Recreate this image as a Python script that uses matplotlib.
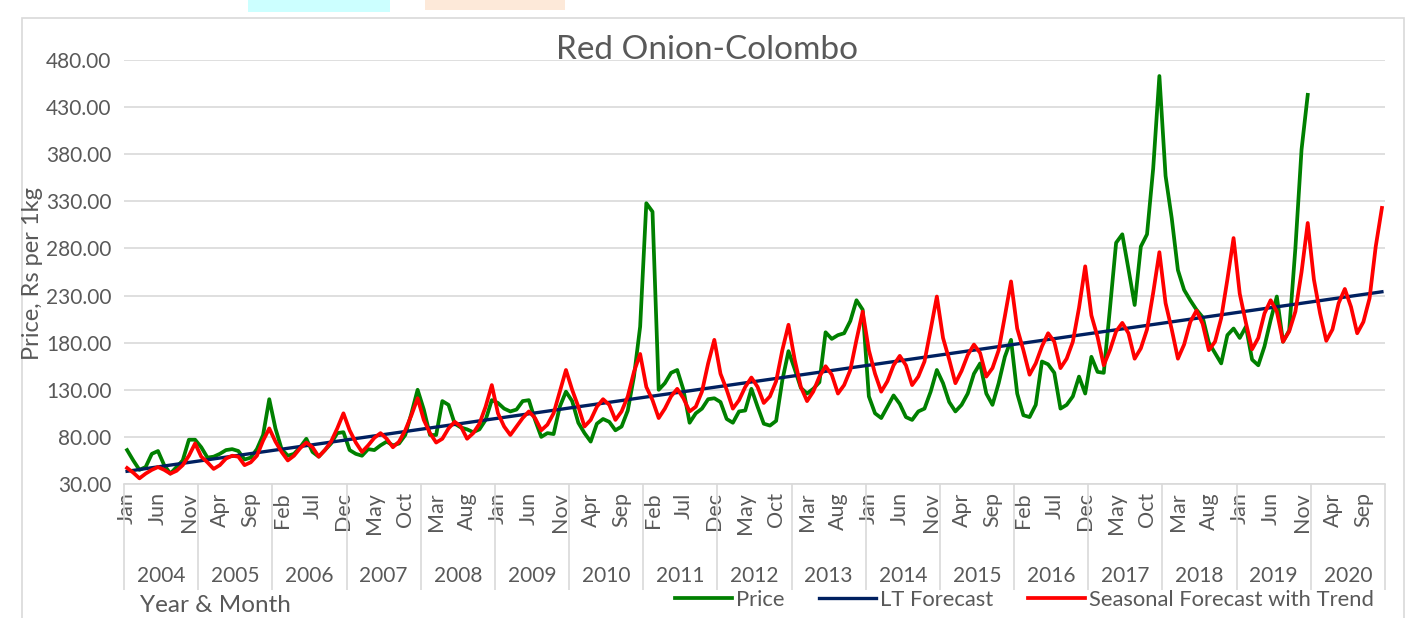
import matplotlib
matplotlib.use('Agg')
import matplotlib.pyplot as plt
import matplotlib.transforms as mtransforms
from matplotlib.patches import Rectangle
from matplotlib.ticker import FormatStrFormatter

plt.rcParams['font.family'] = ['Lato', 'DejaVu Sans']

years = list(range(2004, 2021))
month_names = ['Jan', 'Feb', 'Mar', 'Apr', 'May', 'Jun',
               'Jul', 'Aug', 'Sep', 'Oct', 'Nov', 'Dec']
months = [m for y in years for m in month_names]

# monthly price, Jan 2004 - Dec 2019
price = [
    66, 55, 45, 48, 62, 65, 50, 41, 48, 55, 77, 77,
    69, 58, 59, 62, 66, 67, 65, 56, 58, 67, 82, 120,
    89, 67, 60, 62, 69, 78, 64, 59, 66, 73, 84, 85,
    66, 62, 60, 67, 66, 71, 75, 71, 73, 82, 105, 130,
    109, 82, 82, 118, 114, 94, 90, 88, 85, 88, 98, 119,
    116, 110, 107, 109, 118, 119, 98, 80, 84, 83, 112, 128,
    118, 95, 84, 75, 94, 99, 96, 87, 91, 108, 144, 197,
    328, 319, 130, 137, 148, 151, 130, 95, 105, 110, 120, 121,
    117, 99, 95, 107, 108, 131, 112, 94, 92, 97, 140, 171,
    152, 132, 126, 131, 138, 191, 184, 188, 190, 203, 225, 215,
    123, 105, 100, 112, 124, 115, 101, 98, 107, 110, 128, 151,
    137, 117, 107, 114, 126, 147, 158, 126, 114, 137, 165, 183,
    126, 103, 101, 114, 160, 157, 148, 110, 114, 123, 144, 126,
    165, 149, 148, 216, 286, 295, 258, 220, 282, 295, 365, 463,
    357, 312, 257, 236, 225, 215, 207, 180, 169, 158, 188, 195,
    185, 197, 162, 156, 176, 204, 229, 181, 193, 280, 385, 443,
]

# seasonal forecast with trend, Jan 2004 - Dec 2020
seasonal = [
    47, 42, 36, 41, 45, 48, 45, 41, 44, 50, 60, 73,
    59, 53, 46, 50, 57, 60, 59, 50, 53, 60, 76, 89,
    75, 64, 55, 60, 68, 74, 69, 59, 66, 75, 89, 105,
    87, 74, 64, 71, 79, 84, 78, 69, 75, 87, 103, 121,
    98, 84, 74, 78, 89, 96, 91, 78, 84, 94, 112, 135,
    105, 91, 82, 91, 100, 107, 100, 87, 93, 105, 128, 151,
    130, 112, 91, 98, 112, 120, 114, 98, 107, 123, 149, 168,
    133, 119, 100, 110, 123, 131, 121, 107, 112, 128, 158, 183,
    147, 130, 110, 119, 133, 143, 133, 116, 123, 139, 172, 199,
    162, 133, 118, 128, 144, 155, 146, 126, 135, 151, 183, 213,
    172, 147, 128, 139, 156, 166, 156, 135, 144, 160, 194, 229,
    185, 162, 137, 150, 167, 178, 169, 144, 153, 172, 208, 245,
    195, 172, 146, 158, 176, 190, 181, 153, 163, 181, 217, 261,
    209, 186, 156, 172, 192, 201, 190, 163, 174, 194, 233, 276,
    222, 194, 163, 178, 202, 214, 200, 172, 181, 206, 247, 291,
    232, 201, 173, 185, 211, 225, 213, 181, 192, 213, 255, 307,
    247, 211, 182, 194, 222, 237, 218, 190, 202, 227, 282, 323,
]

# long term (linear) forecast: value at first and last month
lt_forecast = [43.5, 234.0]

n = len(months)
W, H = 1407, 618
grey = '#595959'

fig = plt.figure(figsize=(W / 100, H / 100), dpi=100)
fig.patches.append(Rectangle((248 / W, 1 - 12 / H), 142 / W, 12 / H,
                             transform=fig.transFigure, color='#CCFFFF', lw=0))
fig.patches.append(Rectangle((425 / W, 1 - 10 / H), 140 / W, 10 / H,
                             transform=fig.transFigure, color='#FDE9D9', lw=0))
fig.patches.append(Rectangle((22 / W, -0.01), (1404 - 22) / W, 1.01 - 18 / H,
                             transform=fig.transFigure, fill=False,
                             edgecolor='#D9D9D9', lw=1.2))

ax = fig.add_axes([124 / W, 1 - 484 / H, (1385 - 124) / W, (484 - 60) / H])
ax.plot(range(len(price)), price, color='#008000', lw=2.7, label='Price')
ax.plot([0, n - 1], lt_forecast, color='#002060', lw=2.4, label='LT Forecast')
ax.plot(range(n), seasonal, color='#FF0000', lw=2.7,
        label='Seasonal Forecast with Trend')

ax.set_xlim(-0.5, n - 0.5)
ax.set_ylim(30, 480)
ax.set_yticks(range(30, 481, 50))
ax.yaxis.set_major_formatter(FormatStrFormatter('%.2f'))
ax.grid(axis='y', color='#D9D9D9', lw=1.2)
ax.set_axisbelow(True)
for s in ['top', 'right', 'left']:
    ax.spines[s].set_visible(False)
ax.spines['bottom'].set_color('#D9D9D9')
ax.spines['bottom'].set_linewidth(1.2)
ax.tick_params(axis='y', length=0, pad=9, labelsize=15, labelcolor=grey)

ticks = list(range(0, n, 5))
ax.set_xticks(ticks)
ax.set_xticklabels([months[i] for i in ticks], rotation=90)
ax.tick_params(axis='x', which='major', length=0, pad=6,
               labelsize=15.5, labelcolor=grey)
ax.set_xticks([12 * k - 0.5 for k in range(len(years) + 1)], minor=True)
ax.tick_params(axis='x', which='minor', length=76, width=1.2,
               color='#D9D9D9', direction='out')

trans = mtransforms.blended_transform_factory(ax.transData, ax.transAxes)
for k, yr in enumerate(years):
    ax.text(12 * k + 5.5, -(576 - 484) / 424, str(yr), transform=trans,
            ha='center', va='center', fontsize=15, color=grey)

fig.text(707 / W, 1 - 50 / H, 'Red Onion-Colombo', ha='center', va='center',
         fontsize=24, color=grey)
fig.text(33 / W, 1 - 273 / H, 'Price, Rs per 1kg', rotation=90,
         ha='center', va='center', fontsize=17, color=grey)
fig.text(140 / W, 1 - 606 / H, 'Year & Month', ha='left', va='center',
         fontsize=17.5, color=grey)

fig.legend(loc='center right', bbox_to_anchor=(1374 / W, 1 - 600 / H),
           ncol=3, frameon=False, fontsize=15.8, handlelength=2.6,
           handletextpad=0.2, columnspacing=1.55, labelcolor=grey,
           borderaxespad=0, borderpad=0)

fig.savefig('out.png', dpi=100)
